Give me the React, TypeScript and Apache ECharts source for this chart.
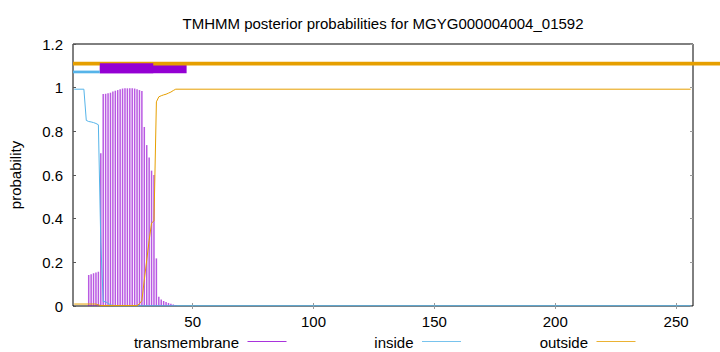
import { useEffect, useRef } from "react";
import * as echarts from "echarts";

const FONT = "'Liberation Sans', Arial, sans-serif";

const titleText = "TMHMM posterior probabilities for MGYG000004004_01592";
const yAxisTitle = "probability";
const seriesNames = ["transmembrane", "inside", "outside"];
const colors = { tm: "#9400d3", inside: "#56b4e9", outside: "#e69f00" };

const xMin = 0.5;
const xMax = 257;
const xTickValues = [50, 100, 150, 200, 250];
const yMin = 0;
const yMax = 1.2;
const yInterval = 0.2;

// transmembrane posterior (impulses), residues 7..43; all other residues are 0
const tmFirstResidue = 7;
const tmValues = [
  0.142, 0.145, 0.15, 0.153, 0.157, 0.7, 0.971, 0.972, 0.975, 0.977, 0.982,
  0.986, 0.989, 0.993, 0.996, 0.997, 0.997, 0.997, 0.997, 0.996, 0.993, 0.989,
  0.985, 0.82, 0.737, 0.68, 0.62, 0.6, 0.218, 0.042, 0.03, 0.023, 0.018, 0.014,
  0.01, 0.007, 0.004,
];

// inside posterior: [residue, probability]
const insidePoints = [
  [1, 0.993], [5, 0.993], [6, 0.85], [7, 0.845], [8, 0.843], [9, 0.84],
  [10, 0.836], [11, 0.83], [12, 0.29], [13, 0.02], [14, 0.02], [15, 0.012],
  [16, 0.006], [17, 0.002], [18, 0.001], [256, 0.001],
];

// outside posterior: [residue, probability]
const outsidePoints = [
  [1, 0.009], [10, 0.009], [11, 0.005], [12, 0.002], [27, 0.002], [28, 0.01],
  [29, 0.025], [30, 0.12], [31, 0.21], [32, 0.3], [33, 0.38], [34, 0.39],
  [35, 0.935], [36, 0.958], [37, 0.963], [38, 0.967], [39, 0.97], [40, 0.975],
  [41, 0.98], [42, 0.987], [43, 0.993], [256, 0.993],
];

// predicted topology bars drawn above the curves
const topoOutside = [[0.5, 1.11], [257, 1.11]];
const topoInside = [[0.5, 1.072], [11.6, 1.072]];
const topoTM = [[11.6, 1.089], [47.5, 1.089]];
const topoTMFront = [[11.6, 1.089], [33.7, 1.089]];

// legend key layout (gnuplot style: text right-aligned, sample line after it)
const legendKeyWidth = 39;
const legendKeyEnds = [286.5, 461, 635.5];
const legendY = 341.5;

export default function App() {
  const ref = useRef<HTMLDivElement>(null);

  useEffect(() => {
    if (!ref.current) return;
    const chart = echarts.init(ref.current, undefined, { renderer: "svg" });

    const tmData = tmValues.map((v, i) => [tmFirstResidue + i, v]);
    const keyColors = [colors.tm, colors.inside, colors.outside];

    const topoLine = (data: number[][], color: string, width: number, z: number) => ({
      type: "line",
      data,
      showSymbol: false,
      symbol: "none",
      clip: false,
      silent: true,
      z,
      lineStyle: { color, width, cap: "butt" },
      itemStyle: { color },
      emphasis: { disabled: true },
    });

    const titleGraphic = {
      type: "text",
      x: 383,
      y: 23,
      style: {
        text: titleText,
        align: "center",
        verticalAlign: "middle",
        fontSize: 15,
        fontFamily: FONT,
        fill: "#000",
      },
    };

    const keyGraphics = legendKeyEnds.flatMap((end, i) => [
      {
        type: "line",
        silent: true,
        z: 10,
        shape: { x1: end - legendKeyWidth, y1: legendY, x2: end, y2: legendY },
        style: { stroke: keyColors[i], lineWidth: 1, opacity: 0.8 },
      },
      {
        type: "text",
        silent: true,
        z: 10,
        x: end - legendKeyWidth - 8.5,
        y: legendY + 0.5,
        style: {
          text: seriesNames[i],
          align: "right",
          verticalAlign: "middle",
          fontSize: 15,
          fontFamily: FONT,
          fill: "#000",
        },
      },
    ]);

    chart.setOption({
      animation: false,
      backgroundColor: "#fff",
      textStyle: { fontFamily: FONT },
      grid: {
        left: 73,
        right: 27,
        top: 44,
        bottom: 46,
        show: true,
        borderColor: "#000",
        borderWidth: 1,
        backgroundColor: "transparent",
      },
      graphic: [titleGraphic, ...keyGraphics],
      xAxis: [
        {
          type: "value",
          min: xMin,
          max: xMax,
          position: "bottom",
          axisLine: { show: false },
          splitLine: { show: false },
          axisTick: {
            inside: true,
            length: 3,
            customValues: xTickValues,
            lineStyle: { color: "#999" },
          },
          axisLabel: {
            customValues: xTickValues,
            margin: 8,
            fontSize: 15,
            fontFamily: FONT,
            color: "#000",
          },
        },
        {
          type: "value",
          min: xMin,
          max: xMax,
          position: "top",
          axisLine: { show: false },
          splitLine: { show: false },
          axisTick: {
            inside: true,
            length: 3,
            customValues: xTickValues,
            lineStyle: { color: "#999" },
          },
          axisLabel: { show: false },
        },
      ],
      yAxis: [
        {
          type: "value",
          min: yMin,
          max: yMax,
          interval: yInterval,
          position: "left",
          name: yAxisTitle,
          nameLocation: "middle",
          nameGap: 50,
          nameRotate: 90,
          nameTextStyle: { fontSize: 15, fontFamily: FONT, color: "#000" },
          axisLine: { show: false },
          splitLine: { show: false },
          axisTick: { inside: true, length: 3, lineStyle: { color: "#555" } },
          axisLabel: { margin: 10, fontSize: 15, fontFamily: FONT, color: "#000" },
        },
        {
          type: "value",
          min: yMin,
          max: yMax,
          interval: yInterval,
          position: "right",
          axisLine: { show: false },
          splitLine: { show: false },
          axisTick: { inside: true, length: 3, lineStyle: { color: "#999" } },
          axisLabel: { show: false },
        },
      ],
      series: [
        {
          name: seriesNames[0],
          type: "bar",
          data: tmData,
          barWidth: 1.5,
          itemStyle: { color: colors.tm, opacity: 0.65 },
          silent: true,
          z: 2,
        },
        {
          name: seriesNames[1],
          type: "line",
          data: insidePoints,
          showSymbol: false,
          symbol: "none",
          lineStyle: { color: colors.inside, width: 1 },
          itemStyle: { color: colors.inside },
          silent: true,
          z: 3,
        },
        {
          name: seriesNames[2],
          type: "line",
          data: outsidePoints,
          showSymbol: false,
          symbol: "none",
          lineStyle: { color: colors.outside, width: 1 },
          itemStyle: { color: colors.outside },
          silent: true,
          z: 3,
        },
        topoLine(topoTM, colors.tm, 10, 4),
        topoLine(topoOutside, colors.outside, 3.7, 5),
        topoLine(topoTMFront, colors.tm, 10, 6),
        topoLine(topoInside, colors.inside, 2.7, 6),
      ],
    });

    // the outside topology bar runs on past the right border to the page edge
    const start = chart.convertToPixel({ gridIndex: 0 }, topoOutside[1]) as number[];
    if (start) {
      chart.setOption({
        graphic: [
          titleGraphic,
          ...keyGraphics,
          {
            type: "line",
            z: 5,
            silent: true,
            shape: { x1: start[0], y1: start[1], x2: 720, y2: start[1] },
            style: { stroke: colors.outside, lineWidth: 3.7 },
          },
        ],
      });
    }

    return () => chart.dispose();
  }, []);

  return <div ref={ref} style={{ width: 720, height: 352, position: "absolute", left: 0, top: 0 }} />;
}
